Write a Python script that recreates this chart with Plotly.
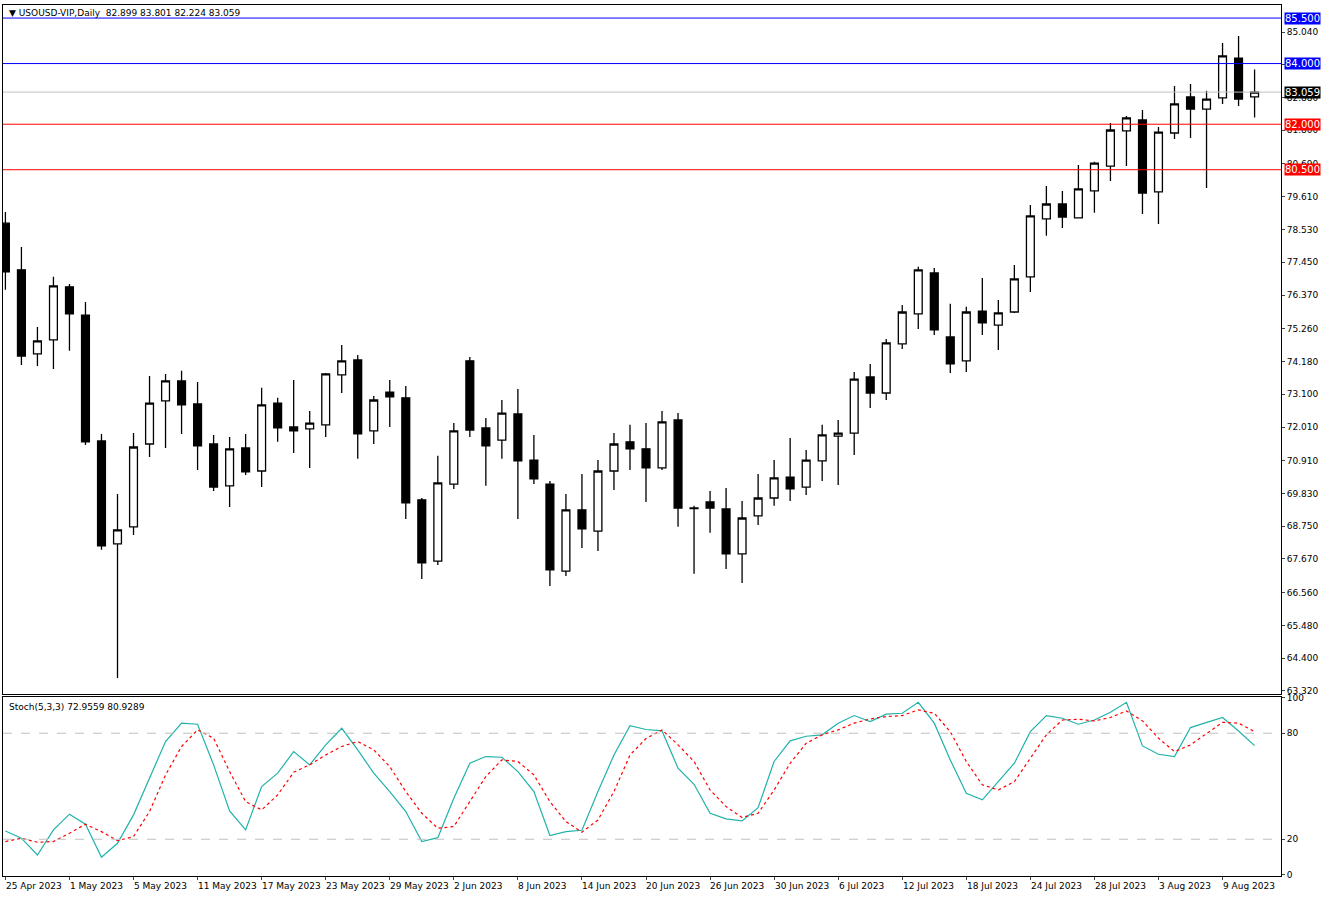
import plotly.graph_objects as go

opens = [78.74,77.20,74.43,74.89,76.64,75.71,71.56,68.17,68.73,71.46,72.88,73.54,72.78,71.46,70.08,71.33,70.57,72.81,72.02,71.96,
         72.09,73.74,74.23,71.89,73.17,72.98,69.62,67.60,70.14,74.20,71.99,71.59,72.45,70.93,70.14,67.27,69.29,68.59,70.57,71.53,
         71.30,70.67,72.25,69.35,69.55,69.32,67.84,69.09,69.68,70.37,70.04,70.90,71.72,71.82,73.67,73.14,74.76,75.75,77.10,74.99,
         74.20,75.84,75.38,75.81,76.97,78.88,79.37,78.91,79.80,80.62,81.78,82.14,79.77,81.71,82.90,82.50,82.87,84.18,82.899]
highs = [79.11,77.95,75.32,76.97,76.73,76.14,71.79,69.81,71.82,73.70,73.77,73.87,73.50,71.76,71.69,71.79,73.31,72.98,73.57,72.55,
         73.80,74.72,74.39,73.04,73.57,73.37,69.68,71.07,72.15,74.33,72.32,72.91,73.27,71.76,70.24,69.81,70.47,70.93,71.82,72.09,
         72.15,72.55,72.48,69.42,69.91,70.01,69.58,70.47,70.93,71.66,71.26,72.09,72.25,73.83,74.10,74.92,76.04,77.30,77.26,76.08,
         75.98,76.93,76.21,77.36,79.34,79.96,79.80,80.66,80.76,82.04,82.27,82.47,81.91,83.26,83.33,83.10,84.68,84.91,83.801]
lows = [76.54,74.06,74.03,73.93,74.53,71.43,67.97,63.75,68.46,71.03,71.33,71.79,70.60,69.91,69.38,70.44,70.04,71.53,71.16,70.67,
        71.69,73.14,70.97,71.46,72.02,68.99,67.01,67.47,69.98,71.69,70.08,70.97,68.99,70.14,66.78,67.11,68.03,67.93,69.94,70.60,
        69.55,70.60,68.73,67.18,68.53,67.34,66.88,68.79,69.42,69.58,69.78,70.24,70.11,71.10,72.65,72.91,74.59,75.25,75.05,73.80,
        73.83,75.05,74.56,75.78,76.47,78.32,78.58,78.91,79.08,80.13,80.62,79.04,78.71,81.51,81.55,79.90,82.67,82.60,82.224]
closes = [77.13,74.36,74.86,76.67,75.75,71.53,68.10,68.63,71.36,72.81,73.54,72.75,71.40,70.04,71.30,70.54,72.75,71.99,71.89,72.15,
          73.77,74.20,71.79,72.91,73.01,69.52,67.54,70.18,71.89,71.92,71.40,72.48,70.90,70.31,67.31,69.29,68.66,70.57,71.46,71.30,
          70.67,72.19,69.35,69.33,69.35,67.84,69.02,69.68,70.34,69.98,70.93,71.76,71.82,73.60,73.14,74.79,75.81,77.20,75.22,74.10,
          75.81,75.45,75.78,76.90,78.98,79.37,78.94,79.87,80.72,81.81,82.21,79.73,81.74,82.67,82.50,82.83,84.25,82.83,83.059]

stoch_k = [24.7,20.6,11.1,25.3,34.2,28.5,9.8,17.7,33.8,54.5,75.3,85.7,85.1,62.1,36.0,25.3,49.8,57.4,69.6,62.1,
           73.4,82.8,70.6,57.4,47.0,35.7,18.7,20.9,43.2,63.0,66.8,66.4,58.3,47.0,22.1,24.3,25.1,47.0,67.7,84.3,
           82.1,81.3,60.2,51.1,34.7,31.5,30.4,37.9,64.0,75.7,78.3,79.1,85.7,90.0,86.6,90.8,91.3,97.5,85.7,64.9,
           46.0,42.3,52.6,63.0,80.9,90.0,88.5,85.1,87.5,91.9,97.5,72.8,68.1,66.8,83.2,86.2,88.9,81.3,72.9559]
stoch_d = [18.7,20.6,18.3,18.7,23.4,28.5,24.3,19.2,21.5,35.7,56.4,72.5,81.9,77.2,58.3,41.3,36.6,45.1,57.9,62.1,
           67.7,72.5,75.3,70.6,61.1,47.0,34.7,26.2,27.2,41.3,55.5,64.9,64.0,56.4,41.3,30.0,24.0,30.9,47.0,67.7,
           77.0,81.9,73.4,64.0,47.9,38.5,32.3,34.7,47.9,63.0,74.3,79.1,81.9,85.7,88.1,89.4,90.0,93.2,91.3,80.9,
           64.0,50.8,47.9,52.6,65.8,79.1,87.5,87.9,87.0,88.9,92.6,87.0,77.2,69.6,73.4,80.0,86.2,85.7,80.9289]

date_labels = ["25 Apr 2023","1 May 2023","5 May 2023","11 May 2023","17 May 2023","23 May 2023","29 May 2023",
               "2 Jun 2023","8 Jun 2023","14 Jun 2023","20 Jun 2023","26 Jun 2023","30 Jun 2023","6 Jul 2023",
               "12 Jul 2023","18 Jul 2023","24 Jul 2023","28 Jul 2023","3 Aug 2023","9 Aug 2023"]
date_pos = list(range(0, 80, 4))
price_ticks = [85.040,83.960,82.880,81.800,80.690,79.610,78.530,77.450,76.370,75.260,74.180,73.100,72.010,
               70.910,69.830,68.750,67.670,66.560,65.480,64.400,63.320]
levels = [85.5, 84.0, 82.0, 80.5]
level_colors = ["#0000ff", "#0000ff", "#ff0000", "#ff0000"]
last_price = 83.059

FONT = "DejaVu Sans"
FS = 9
x = list(range(len(opens)))
XR = [-0.15, 79.65]

fig = go.Figure()
fig.add_trace(go.Candlestick(
    x=x, open=opens, high=highs, low=lows, close=closes, xaxis="x", yaxis="y",
    increasing=dict(line=dict(color="black", width=1.3), fillcolor="white"),
    decreasing=dict(line=dict(color="black", width=1.3), fillcolor="black"),
    whiskerwidth=0, showlegend=False, hoverinfo="skip"))
fig.add_trace(go.Scatter(x=x, y=stoch_k, xaxis="x2", yaxis="y2", mode="lines",
                         line=dict(color="#20b2aa", width=1.2), showlegend=False))
fig.add_trace(go.Scatter(x=x, y=stoch_d, xaxis="x2", yaxis="y2", mode="lines",
                         line=dict(color="#ff0000", width=1.2, dash="dot"), showlegend=False))

shapes = []
for lv, col in zip(levels, level_colors):
    shapes.append(dict(type="line", xref="x domain", yref="y", x0=0, x1=1, y0=lv, y1=lv,
                       line=dict(color=col, width=1)))
shapes.append(dict(type="line", xref="x domain", yref="y", x0=0, x1=1, y0=last_price, y1=last_price,
                   line=dict(color="#c0c0c0", width=1)))
for lv in [80, 20]:
    shapes.append(dict(type="line", xref="x2 domain", yref="y2", x0=0, x1=1, y0=lv, y1=lv,
                       line=dict(color="#c0c0c0", width=1, dash="dash")))

ann = []
for lv, col in zip(levels, level_colors):
    ann.append(dict(x=1.0, xref="x domain", y=lv, yref="y", text=f"{lv:.3f}", showarrow=False,
                    xanchor="left", xshift=3, bgcolor=col, font=dict(color="white", size=10, family=FONT),
                    borderpad=0))
ann.append(dict(x=1.0, xref="x domain", y=last_price, yref="y", text=f"{last_price:.3f}", showarrow=False,
                xanchor="left", xshift=3, bgcolor="black", font=dict(color="white", size=10, family=FONT),
                borderpad=0))
for p, t in zip(date_pos, date_labels):
    ann.append(dict(x=p - 0.1, xref="x2", y=0, yref="paper", yshift=-3, text=t, showarrow=False,
                    xanchor="left", yanchor="top", font=dict(size=FS, color="black", family=FONT)))
ann.append(dict(x=0.003, xref="x domain", y=0.998, yref="y domain", text="▼ USOUSD-VIP,Daily  82.899 83.801 82.224 83.059",
                showarrow=False, xanchor="left", yanchor="top", font=dict(size=FS, color="black", family=FONT)))
ann.append(dict(x=0.003, xref="x2 domain", y=0.985, yref="y2 domain", text="Stoch(5,3,3) 72.9559 80.9289",
                showarrow=False, xanchor="left", yanchor="top", font=dict(size=FS, color="black", family=FONT)))

fig.update_layout(
    width=1332, height=901, margin=dict(l=3, r=51, t=5, b=25, autoexpand=False),
    paper_bgcolor="white", plot_bgcolor="white",
    shapes=shapes, annotations=ann, font=dict(family=FONT, size=FS, color="black"),
    xaxis=dict(domain=[0, 1], range=XR, showticklabels=False, showgrid=False, zeroline=False,
               rangeslider=dict(visible=False), showline=True, mirror=True, linecolor="black", linewidth=1,
               anchor="y", automargin=False),
    yaxis=dict(domain=[0.209, 1], range=[63.22, 85.93], side="right", tickvals=price_ticks,
               ticktext=[f"{v:.3f}" for v in price_ticks], showgrid=False, zeroline=False,
               showline=True, mirror=True, linecolor="black", ticks="outside", ticklen=3,
               tickfont=dict(size=FS, family=FONT), automargin=False),
    xaxis2=dict(domain=[0, 1], range=XR, anchor="y2", tickvals=date_pos, ticktext=[""] * len(date_pos),
                ticks="outside", ticklen=3, showgrid=False, zeroline=False,
                showline=True, mirror=True, linecolor="black", automargin=False),
    yaxis2=dict(domain=[0, 0.2055], range=[-0.8, 100.5], side="right", anchor="x2", tickvals=[0, 20, 80, 100],
                showgrid=False, zeroline=False, showline=True, mirror=True, linecolor="black",
                ticks="outside", ticklen=3, tickfont=dict(size=FS, family=FONT), automargin=False),
)
fig.write_html("out.html", config={"displayModeBar": False},
               post_script="document.body.style.margin='0';")
